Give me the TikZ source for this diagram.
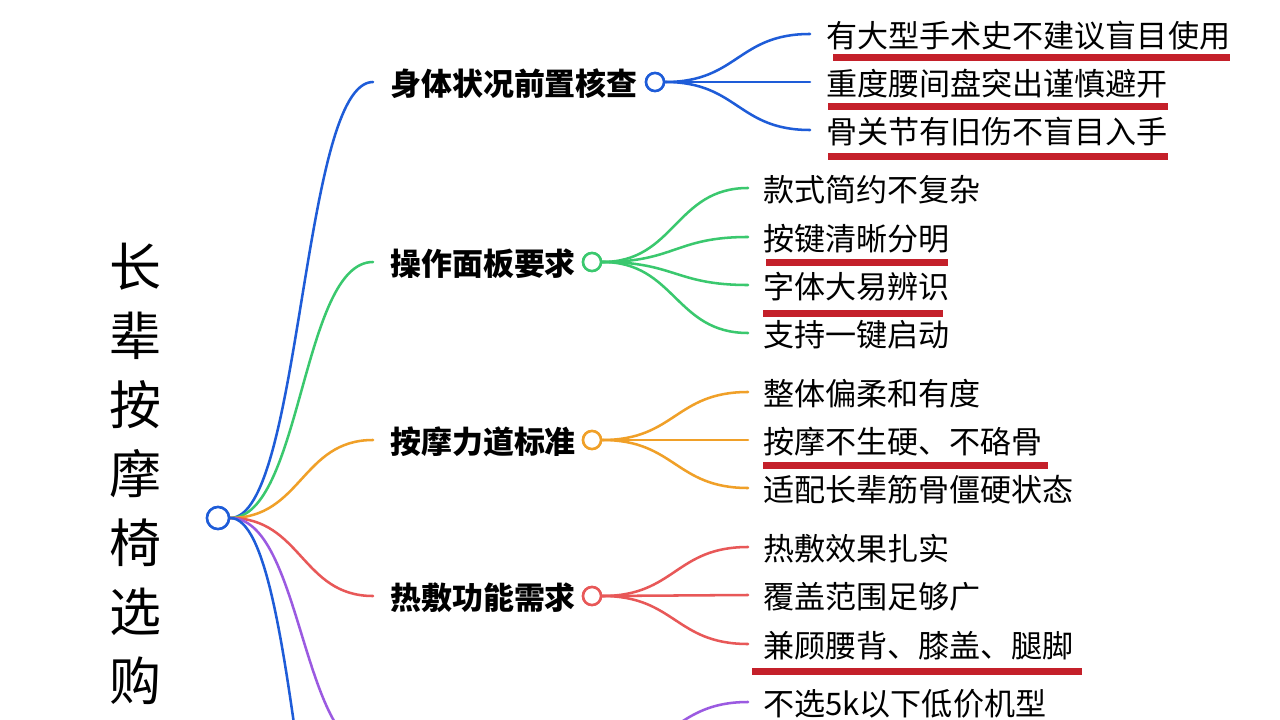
\documentclass[tikz,border=0pt]{standalone}
\usepackage{fontspec}
\setmainfont{Noto Sans CJK SC}
\usetikzlibrary{calc}
\definecolor{cblue}{RGB}{30,92,216}
\definecolor{cgreen}{RGB}{58,200,110}
\definecolor{corange}{RGB}{240,160,40}
\definecolor{cred}{RGB}{232,88,88}
\definecolor{cpurple}{RGB}{155,90,225}
\definecolor{ulred}{RGB}{196,32,42}
\begin{document}
\begin{tikzpicture}[x=0.75pt,y=-0.75pt,
  conn/.style={line width=1.9pt, line cap=round},
  mm/.style={to path={let \p1=(\tikztostart), \p2=(\tikztotarget) in .. controls ({(\x1+\x2)/2},\y1) and ({(\x1+\x2)/2},\y2) .. (\tikztotarget)}},
  l1/.style={anchor=west, inner xsep=12.75pt, inner ysep=0pt, font=\fontsize{23.2pt}{27pt}\selectfont\bfseries, text height=22pt, text depth=2.1pt},
  leafb/.style={anchor=west, inner xsep=12pt, inner ysep=0pt, font=\fontsize{23.3pt}{27pt}\selectfont, text height=22pt, text depth=2.1pt},
  leaf/.style={leafb, inner xsep=11.25pt},
  dot/.style={circle, draw, line width=1.9pt, fill=white, minimum size=13.5pt, inner sep=0pt},
  ul/.style={draw=ulred, line width=5.25pt},
  title/.style={align=center, font=\fontsize{39pt}{51.75pt}\selectfont, inner sep=0pt}
]
\useasboundingbox (0,0) rectangle (1280,720);
\fill[white] (0,0) rectangle (1280,720);
\clip (0,0) rectangle (1280,720);

% title
\node[title] (title) at (135,474) {长\\辈\\按\\摩\\椅\\选\\购};

% root
\node[dot, draw=cblue, minimum size=16.5pt] (root) at (218,518) {};

% level 1
\node[l1] (L1) at (373,82) {身体状况前置核查};
\node[l1] (L2) at (373,262) {操作面板要求};
\node[l1] (L3) at (373,440) {按摩力道标准};
\node[l1] (L4) at (373,596) {热敷功能需求};
\coordinate (L5) at (373,751);
\coordinate (L6) at (373,1040);
\coordinate (C5) at (601,751);

% leaves
\node[leafb] (b1) at (810,34) {有大型手术史不建议盲目使用};
\node[leafb] (b2) at (810,82) {重度腰间盘突出谨慎避开};
\node[leafb] (b3) at (810,130) {骨关节有旧伤不盲目入手};
\node[leaf] (g1) at (748,188) {款式简约不复杂};
\node[leaf] (g2) at (748,237) {按键清晰分明};
\node[leaf] (g3) at (748,285) {字体大易辨识};
\node[leaf] (g4) at (748,333) {支持一键启动};
\node[leaf] (o1) at (748,392) {整体偏柔和有度};
\node[leaf] (o2) at (748,440) {按摩不生硬、不硌骨};
\node[leaf] (o3) at (748,488) {适配长辈筋骨僵硬状态};
\node[leaf] (r1) at (748,547) {热敷效果扎实};
\node[leaf] (r2) at (748,595) {覆盖范围足够广};
\node[leaf] (r3) at (748,644) {兼顾腰背、膝盖、腿脚};
\node[leaf] (p1) at (748,702) {不选5k以下低价机型};

% root connectors
\draw[conn, cblue] (root.east) to[mm] (L1.west);
\draw[conn, cgreen] (root.east) to[mm] (L2.west);
\draw[conn, corange] (root.east) to[mm] (L3.west);
\draw[conn, cred] (root.east) to[mm] (L4.west);
\draw[conn, cpurple] (root.east) to[mm] (L5);
\draw[conn, cblue] (root.east) to[mm] (L6);

% level-1 circles
\node[dot, draw=cblue] (C1) at (655,82) {};
\node[dot, draw=cgreen] (C2) at (592,262) {};
\node[dot, draw=corange] (C3) at (592,440) {};
\node[dot, draw=cred] (C4) at (592,596) {};

% leaf connectors
\foreach \k in {b1,b2,b3} \draw[conn, cblue] (C1.east) to[mm] (\k.west);
\foreach \k in {g1,g2,g3,g4} \draw[conn, cgreen] (C2.east) to[mm] (\k.west);
\foreach \k in {o1,o2,o3} \draw[conn, corange] (C3.east) to[mm] (\k.west);
\foreach \k in {r1,r2,r3} \draw[conn, cred] (C4.east) to[mm] (\k.west);
\draw[conn, cpurple] (C5) to[mm] (p1.west);

% redraw circles on top
\node[dot, draw=cblue, minimum size=16.5pt] at (root) {};
\node[dot, draw=cblue] at (C1) {};
\node[dot, draw=cgreen] at (C2) {};
\node[dot, draw=corange] at (C3) {};
\node[dot, draw=cred] at (C4) {};

% underlines
\draw[ul] (833,58) -- (1230,58);
\draw[ul] (828,107) -- (1168,107);
\draw[ul] (828,157) -- (1168,157);
\draw[ul] (766,262) -- (948,262);
\draw[ul] (763,313) -- (943,313);
\draw[ul] (763,465) -- (1048,465);
\draw[ul] (752,671) -- (1082,671);
\end{tikzpicture}
\end{document}
